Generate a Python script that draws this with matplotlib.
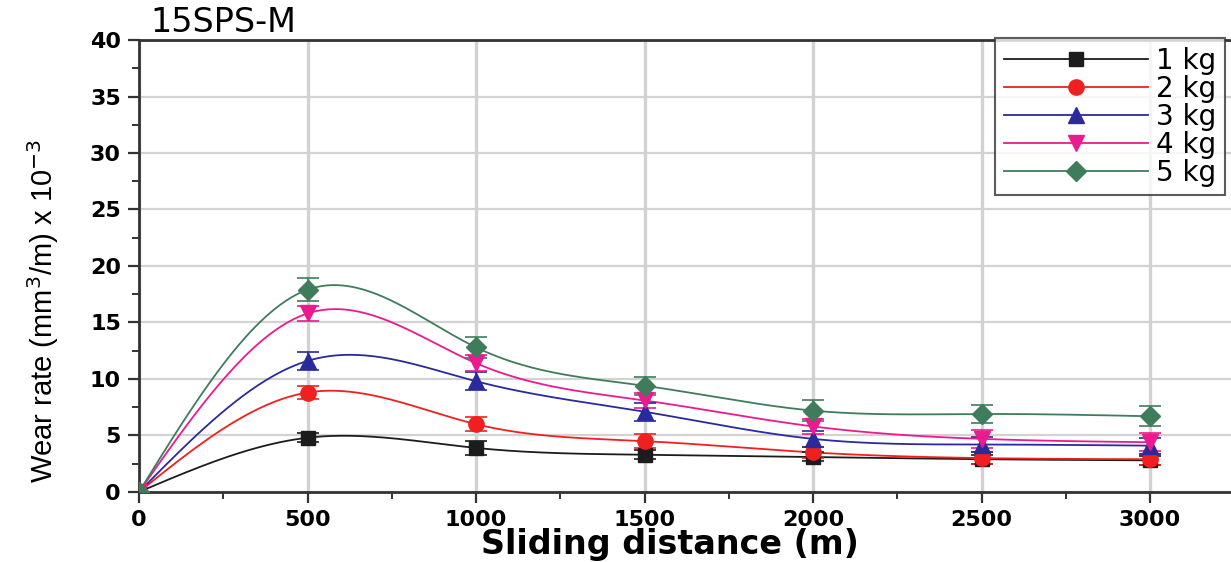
import numpy as np
import matplotlib
matplotlib.use("Agg")
import matplotlib.pyplot as plt
from matplotlib.ticker import MultipleLocator

# sliding distance (m)
distance = [0, 500, 1000, 1500, 2000, 2500, 3000]

# wear rate (mm^3/m) x 10^-3 for each applied load
wear_1kg = [0.0, 4.8, 3.9, 3.3, 3.1, 2.9, 2.8]
wear_2kg = [0.0, 8.8, 6.0, 4.5, 3.5, 3.0, 2.9]
wear_3kg = [0.0, 11.6, 9.8, 7.1, 4.7, 4.2, 4.1]
wear_4kg = [0.0, 15.8, 11.4, 8.1, 5.8, 4.7, 4.4]
wear_5kg = [0.0, 17.9, 12.8, 9.4, 7.2, 6.9, 6.7]

err_1kg = [0.0, 0.4, 0.6, 0.4, 0.4, 0.4, 0.4]
err_2kg = [0.0, 0.6, 0.6, 0.6, 0.5, 0.5, 0.5]
err_3kg = [0.0, 0.8, 0.8, 0.8, 0.7, 0.7, 0.7]
err_4kg = [0.0, 0.7, 0.7, 0.7, 0.7, 0.8, 0.8]
err_5kg = [0.0, 1.0, 0.9, 0.8, 0.9, 0.8, 0.9]

labels = ["1 kg", "2 kg", "3 kg", "4 kg", "5 kg"]


def natural_spline(x, y, num=400):
    # smooth connecting line through the measured points (Origin-style spline)
    x = np.asarray(x, float)
    y = np.asarray(y, float)
    n = len(x)
    h = np.diff(x)
    A = np.zeros((n, n))
    b = np.zeros(n)
    A[0, 0] = A[-1, -1] = 1.0
    for i in range(1, n - 1):
        A[i, i - 1] = h[i - 1]
        A[i, i] = 2 * (h[i - 1] + h[i])
        A[i, i + 1] = h[i]
        b[i] = 6 * ((y[i + 1] - y[i]) / h[i] - (y[i] - y[i - 1]) / h[i - 1])
    m = np.linalg.solve(A, b)
    xs = np.linspace(x[0], x[-1], num)
    idx = np.clip(np.searchsorted(x, xs) - 1, 0, n - 2)
    x0, x1 = x[idx], x[idx + 1]
    hh = x1 - x0
    t0 = x1 - xs
    t1 = xs - x0
    ys = (m[idx] * t0**3 + m[idx + 1] * t1**3) / (6 * hh) \
        + (y[idx] / hh - m[idx] * hh / 6) * t0 \
        + (y[idx + 1] / hh - m[idx + 1] * hh / 6) * t1
    return xs, ys


series = [
    (wear_1kg, err_1kg, "#1c1c1c", "s", 10),
    (wear_2kg, err_2kg, "#f02020", "o", 11),
    (wear_3kg, err_3kg, "#2a2a9c", "^", 11),
    (wear_4kg, err_4kg, "#ec1a8f", "v", 11),
    (wear_5kg, err_5kg, "#3f7c5c", "D", 10),
]

fig = plt.figure(figsize=(12.31, 5.62), dpi=100)
ax = fig.add_axes([0.1129, 0.1246, 0.8871, 0.8042])

for (vals, errs, color, marker, ms), label in zip(series, labels):
    xs, ys = natural_spline(distance, vals)
    ax.plot(xs, ys, color=color, linewidth=1.3, zorder=2)
    ax.errorbar(distance, vals, yerr=errs, fmt="none", ecolor=color,
                elinewidth=1.2, capsize=8, capthick=1.2, zorder=3)
    ax.plot(distance, vals, linestyle="none", marker=marker, markersize=ms,
            color=color, markeredgecolor=color, zorder=4)
    ax.plot([], [], color=color, linewidth=1.3, marker=marker,
            markersize=ms, label=label)

ax.set_xlim(0, 3240)
ax.set_ylim(0, 40)
ax.xaxis.set_major_locator(MultipleLocator(500))
ax.xaxis.set_minor_locator(MultipleLocator(250))
ax.yaxis.set_major_locator(MultipleLocator(5))
ax.yaxis.set_minor_locator(MultipleLocator(2.5))
ax.grid(which="major", axis="x", color="#d2d2d2", linewidth=2.4)
ax.grid(which="major", axis="y", color="#d2d2d2", linewidth=1.6)
ax.set_axisbelow(True)

for side in ["left", "bottom", "top"]:
    ax.spines[side].set_color("#333333")
    ax.spines[side].set_linewidth(2.0)
ax.spines["right"].set_visible(False)

ax.tick_params(which="major", direction="out", length=8, width=1.6, color="#333333",
               labelsize=16, pad=5)
ax.tick_params(which="minor", direction="out", length=5, width=1.4, color="#333333")
for lbl in ax.get_xticklabels() + ax.get_yticklabels():
    lbl.set_fontfamily("DejaVu Sans")
    lbl.set_fontweight("bold")

ax.set_xlabel("Sliding distance (m)", fontsize=24, fontweight="bold",
              family="DejaVu Sans")
ax.xaxis.set_label_coords(0.486, -0.08)
ax.set_ylabel(r"Wear rate (mm$^3$/m) x 10$^{-3}$", fontsize=21,
              family="Liberation Sans")
ax.yaxis.set_label_coords(-0.071, 0.40)

fig.text(0.122, 0.99, "15SPS-M", ha="left", va="top", fontsize=24,
         family="DejaVu Sans")

leg = ax.legend(loc="upper right", handlelength=5.2, handletextpad=0.3,
                labelspacing=0.0, borderpad=0.3, borderaxespad=0.0,
                frameon=True, fancybox=False,
                prop={"family": "DejaVu Sans", "size": 20},
                bbox_to_anchor=(0.9945, 1.004))
leg.get_frame().set_edgecolor("#333333")
leg.get_frame().set_linewidth(1.5)

fig.savefig("out.png", dpi=100)
